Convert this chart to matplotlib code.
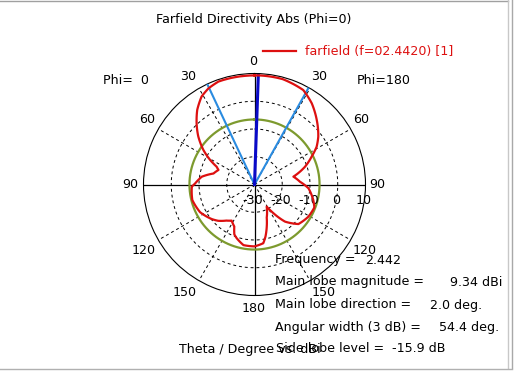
import numpy as np
import matplotlib
matplotlib.use('Agg')
import matplotlib.pyplot as plt
from matplotlib.lines import Line2D
from matplotlib.transforms import offset_copy

plt.rcParams['font.family'] = 'DejaVu Sans'
FS = 9.1

# Farfield pattern, theta measured clockwise from top (right side = Phi 180)
theta_deg = [0, 2, 15, 27.3, 35.2, 44, 53.2, 58.7, 64, 70.6, 78.6, 86.5, 94,
             104.8, 111, 121, 132, 140.6, 147.7, 151.2, 159.7, 163.9, 168,
             171.5, 180,
             190.3, 198.3, 202, 205.7, 212.3, 218, 225, 231, 243, 256, 268,
             271, 278.4, 285, 292, 295.2, 299, 304, 310.6, 316.5, 322.5, 329,
             334.4, 340.7, 349.7, 360]
directivity = [9.3, 9.34, 9.3, 8.3, 5.8, 2.3, -1.3, -3.8, -7.1, -10.7, -15.7,
               -13.6, -10.5, -8.1, -6.9, -7.4, -8.7, -12.7, -18.5, -20.9,
               -17.3, -14.1, -10.9, -8.6, -7.7,
               -7.8, -9.6, -10.6, -13.2, -14.6, -13.5, -11.5, -10.2, -8.0,
               -6.9, -7.4, -8.6, -10.8, -14.7, -16.0, -14.9, -11.7, -7.8,
               -3.3, 0.3, 3.9, 7.0, 8.4, 9.3, 9.3, 9.3]

main_lobe_dir = 2.0
main_lobe_mag = 9.34
beam_width = 54.4
side_lobe_level = -15.9
r_min, r_max = -30, 10
ring_labels = ['-30', '-20', '-10', '0', '10']

W, H = 515, 371
fig = plt.figure(figsize=(W / 100, H / 100), dpi=100)
fig.patch.set_facecolor('white')

cx, cy, R = 254.5, 184.5, 111
ax = fig.add_axes([(cx - R) / W, (H - cy - R) / H, 2 * R / W, 2 * R / H],
                  projection='polar')
ax.set_theta_zero_location('N')
ax.set_theta_direction(-1)
ax.set_ylim(r_min, r_max)
ax.grid(False)
ax.set_xticks([])
ax.set_yticks([])
ax.spines['polar'].set_color('black')
ax.spines['polar'].set_linewidth(0.8)

# grid
full = np.radians(np.linspace(0, 360, 361))
for v in [-20, -10, 0]:
    ax.plot(full, np.full_like(full, v), color='black', lw=0.7, ls=(0, (3, 3)))
for a in range(30, 360, 30):
    if a % 90 == 0:
        continue
    ax.plot([np.radians(a)] * 2, [r_min, r_max], color='black', lw=0.7,
            ls=(0, (3, 3)))
for a in [0, 90, 180, 270]:
    ax.plot([np.radians(a)] * 2, [r_min, r_max], color='black', lw=0.9)

# side lobe circle
ax.plot(full, np.full_like(full, main_lobe_mag + side_lobe_level),
        color='#7d9a2e', lw=1.6, zorder=3)

# beam width and main lobe lines
for a in [main_lobe_dir - beam_width / 2, main_lobe_dir + beam_width / 2]:
    ax.plot([np.radians(a)] * 2, [r_min, r_max], color='#2a8be0', lw=1.5,
            zorder=4)
ax.plot([np.radians(main_lobe_dir)] * 2, [r_min, main_lobe_mag],
        color='#0a0ac8', lw=2.2, zorder=4)

line, = ax.plot(np.radians(theta_deg), directivity, color='#dd1010', lw=1.6,
                zorder=5, label='farfield (f=02.4420) [1]')
# draw segments along the polar grid (arcs) instead of straight chords
line.get_path()._interpolation_steps = 30

# radial labels
tr = offset_copy(ax.transData, fig=fig, x=-1.5, y=-16.5, units='dots')
for v, s in zip(range(r_min, r_max + 1, 10), ring_labels):
    ax.text(np.radians(90), v, s, transform=tr, ha='center', va='center',
            fontsize=FS)


def ftext(x, y, s, **kw):
    kw.setdefault('fontsize', FS)
    kw.setdefault('va', 'center')
    fig.text(x / W, 1 - y / H, s, **kw)


# angle labels
for x, y, s in [(188.3, 76.7, '30'), (146.7, 119.3, '60'), (130.7, 185, '90'),
                (143.3, 250.7, '120'), (185, 292.7, '150'),
                (319.3, 76.7, '30'), (361, 119.3, '60'), (377.3, 184.3, '90'),
                (365, 250.7, '120'), (324, 292.7, '150'),
                (254, 309, '180'), (253.3, 61.7, '0')]:
    ftext(x, y, s, ha='center')
ftext(125.5, 80.7, 'Phi=  0', ha='center')
ftext(384, 80.7, 'Phi=180', ha='center')

ftext(254, 20, 'Farfield Directivity Abs (Phi=0)', ha='center')

leg = fig.legend(handles=[line], loc='center left',
                 bbox_to_anchor=(263 / W, 1 - 51.7 / H), frameon=False,
                 borderpad=0, borderaxespad=0, handlelength=2.6,
                 handletextpad=0.7, fontsize=FS, labelcolor='#dd1010')

# info text
ftext(275, 260, 'Frequency =')
ftext(365, 260, '2.442')
ftext(275, 282, 'Main lobe magnitude =')
ftext(450, 282, '9.34 dBi')
ftext(275, 305, 'Main lobe direction =')
ftext(430, 305, '2.0 deg.')
ftext(275, 327, 'Angular width (3 dB) =')
ftext(439, 327, '54.4 deg.')
ftext(179, 349, 'Theta / Degree vs. dBi')
ftext(275.5, 349, 'Side lobe level =')
ftext(392, 349, '-15.9 dB')

# window borders
for xs, ys, c in [([0, 508], [1, 1], '#a0a0a0'),
                  ([508, 508], [0, 368], '#c8c8c8'),
                  ([512, 512], [0, 368], '#a8a8a8'),
                  ([0, 512], [368.5, 368.5], '#b0b0b0')]:
    fig.add_artist(Line2D([x / W for x in xs], [1 - y / H for y in ys],
                          color=c, lw=1))

fig.savefig('out.png', dpi=100)
